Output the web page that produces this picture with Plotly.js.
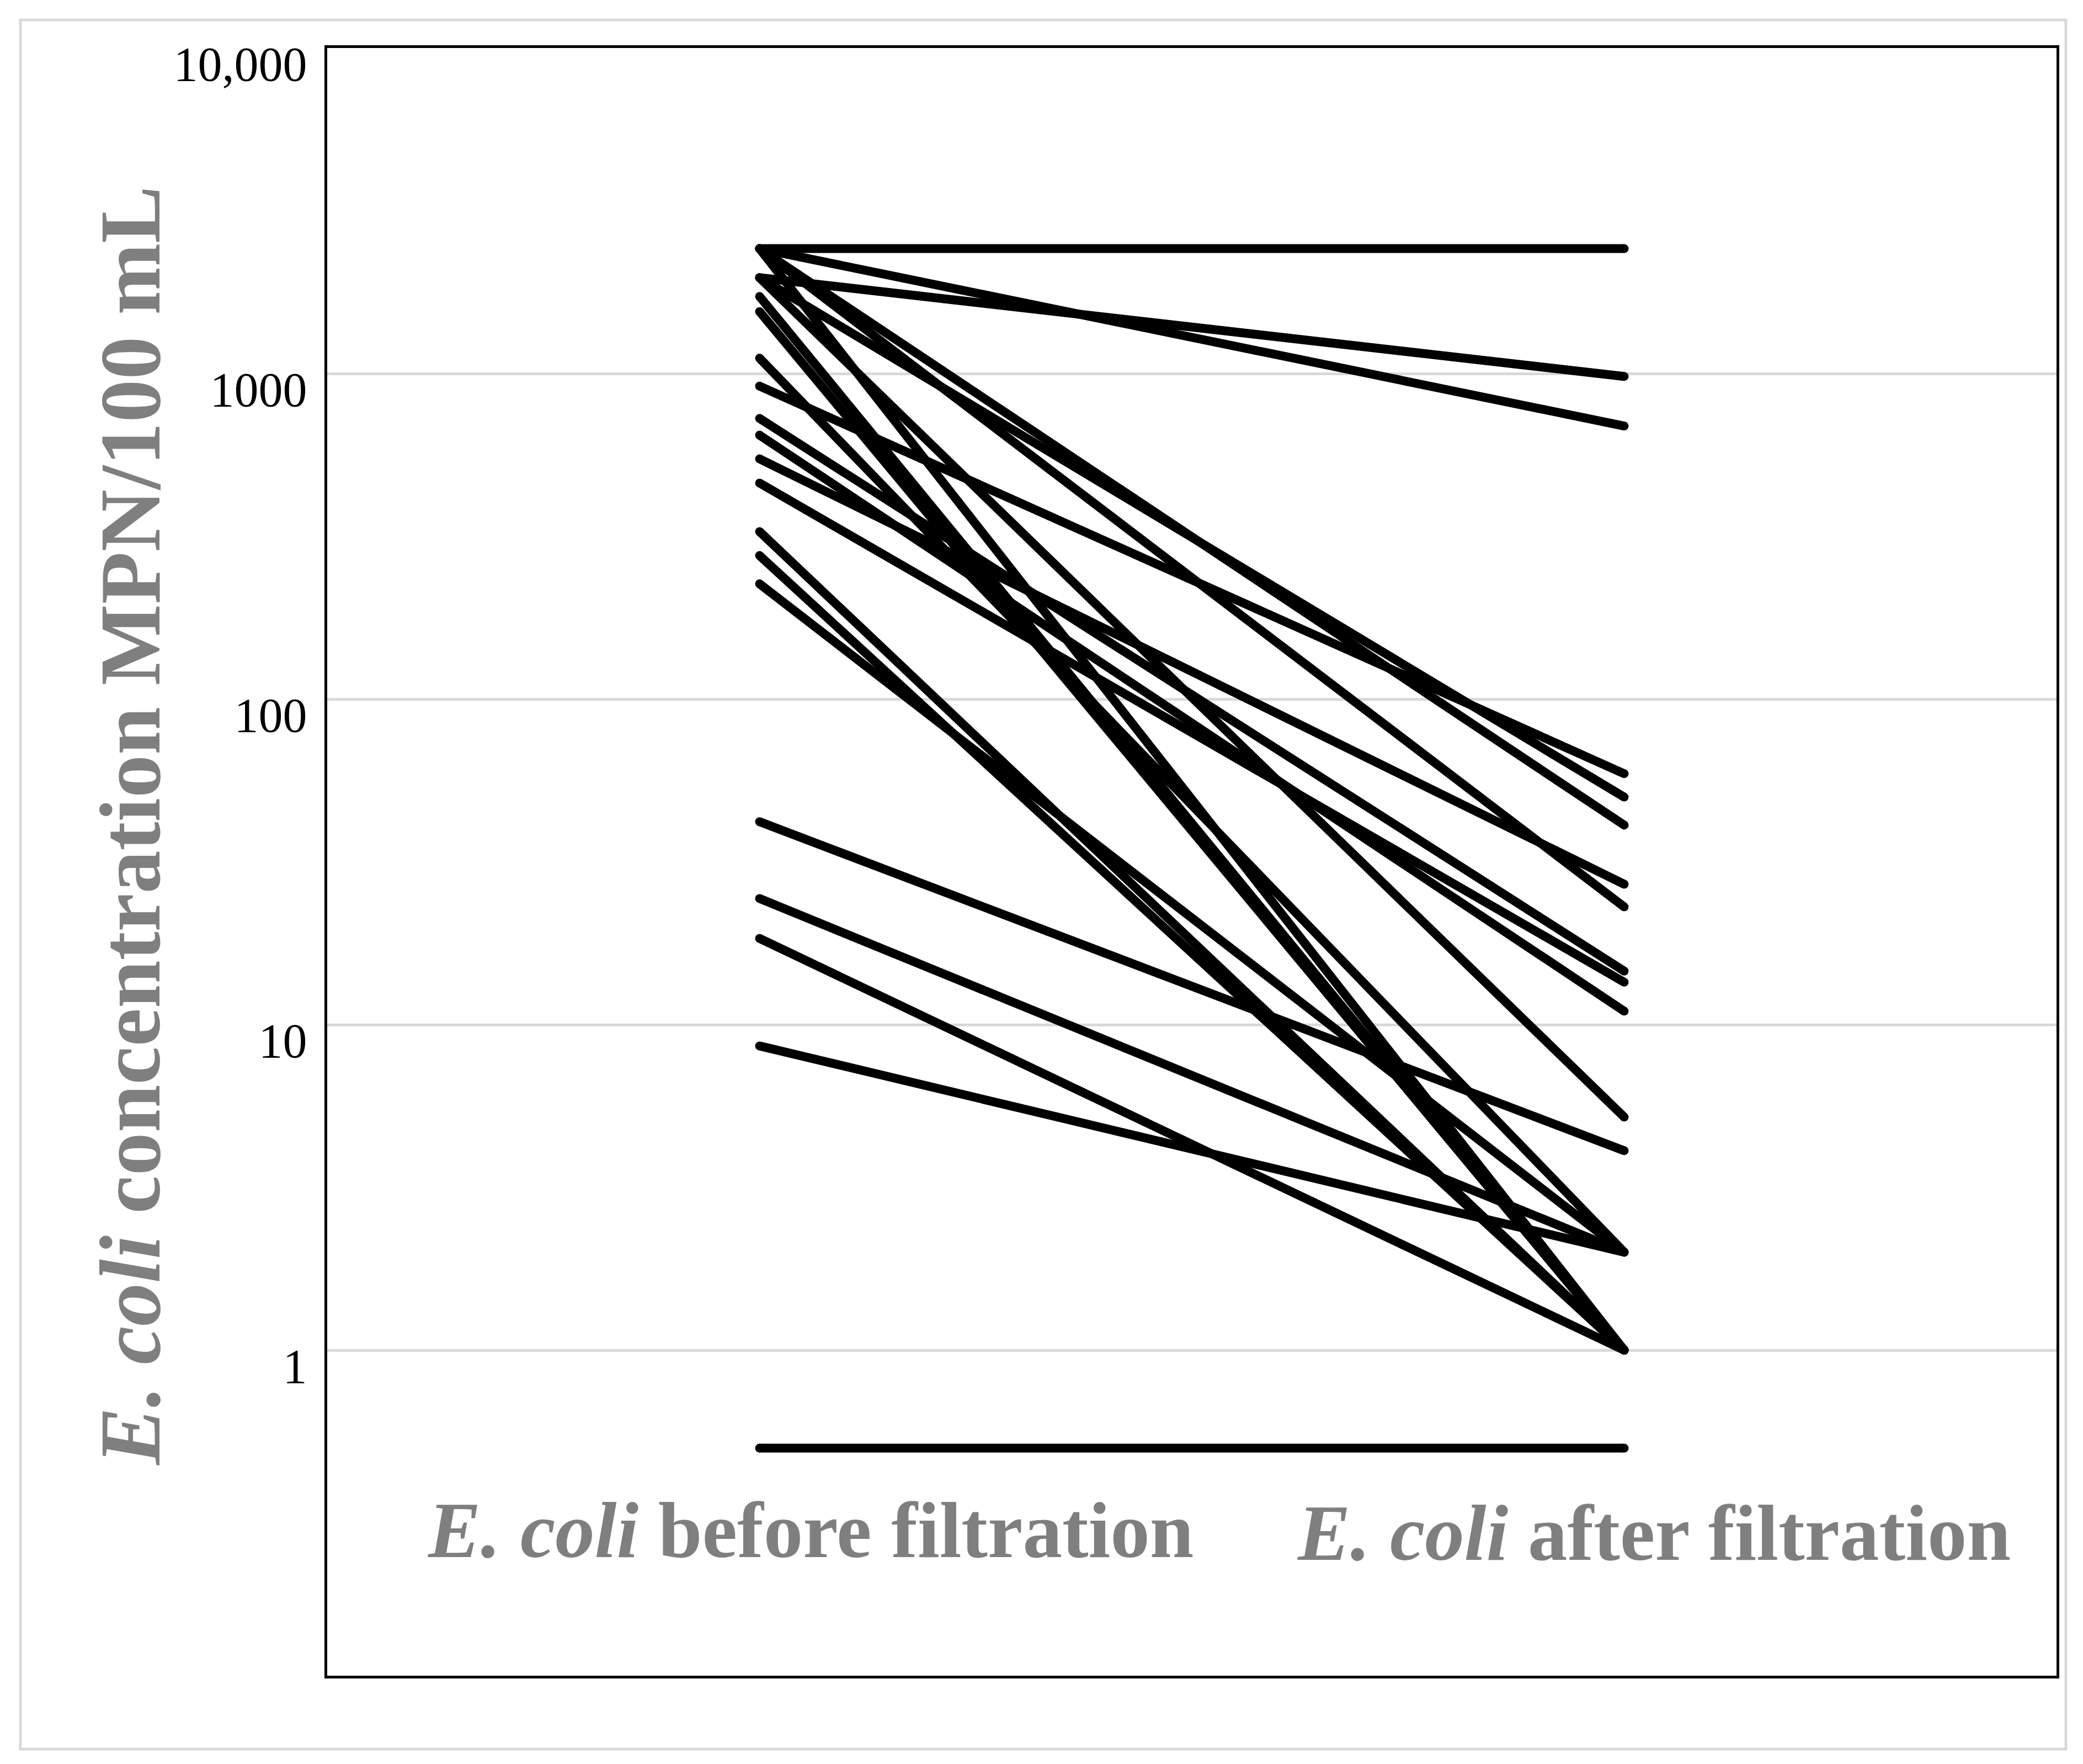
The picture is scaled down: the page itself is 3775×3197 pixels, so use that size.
<!DOCTYPE html>
<html>
<head>
<meta charset="utf-8">
<script src="https://cdn.plot.ly/plotly-3.0.1.min.js"></script>
<style>
  html, body { margin: 0; padding: 0; background: white; }
  #plot { width: 3775px; height: 3197px; }
</style>
</head>
<body>
<div id="plot"></div>
<script>
// E. coli MPN/100 mL, one sample per pair (before -> after filtration)
const beforeMPN = [2419.6, 2419.6, 1970, 2419.6, 2419.6, 1970, 1970, 2419.6, 1725, 1550, 1115, 915,
                   728, 647, 547, 461, 327, 276, 226, 42, 24.4, 18.4, 8.6, 0.5];
const afterMPN  = [2419.6, 690, 980, 41, 23, 50, 5.2, 1, 1, 1, 2, 59,
                   14.6, 11, 27, 13.5, 1, 1, 2, 4.1, 2, 1, 2, 0.5];

const categories = ['<b><i>E. coli</i> before filtration</b>', '<b><i>E. coli</i> after filtration</b>'];
const yTickVals = [1, 10, 100, 1000, 10000];
const yTickText = ['1', '10', '100', '1000', '10,000'];
const yTitle = '<b><i>E. coli</i> concentration MPN/100 mL</b>';

const serif = 'Liberation Serif, DejaVu Serif, serif';
const grey = '#7f7f7f';

// one trace per sample
const traces = beforeMPN.map(function(b, i) {
    return {
        x: [0, 1],
        y: [b, afterMPN[i]],
        type: 'scatter',
        mode: 'lines+markers',
        line: { color: '#000', width: 16 },
        marker: { color: '#000', size: 16 },   // round the line ends
        showlegend: false,
        hoverinfo: 'skip'
    };
});

const layout = {
    width: 3775,
    height: 3197,
    margin: { l: 593, r: 48, t: 87, b: 160 },
    paper_bgcolor: 'white',
    plot_bgcolor: 'white',
    showlegend: false,
    xaxis: {
        range: [-0.5, 1.5],
        showgrid: false,
        zeroline: false,
        showticklabels: false,
        ticks: '',
        showline: true,
        mirror: true,
        linecolor: '#000',
        linewidth: 5
    },
    yaxis: {
        type: 'log',
        range: [-1, 4],
        tickvals: yTickVals,
        ticktext: yTickText,
        ticks: '',
        ticklabelstandoff: 14,
        ticklabelshift: 28,
        tickfont: { family: serif, size: 88, color: '#000' },
        showgrid: true,
        gridcolor: '#d9d9d9',
        gridwidth: 5,
        zeroline: false,
        showline: true,
        mirror: true,
        linecolor: '#000',
        linewidth: 5
    },
    annotations: [
        {
            x: 0, y: -0.554, xref: 'x', yref: 'y',
            text: categories[0], showarrow: false, xshift: 92,
            xanchor: 'center', yanchor: 'middle',
            font: { family: serif, size: 143, color: grey }
        },
        {
            x: 1, y: -0.563, xref: 'x', yref: 'y',
            text: categories[1], showarrow: false, xshift: 53,
            xanchor: 'center', yanchor: 'middle',
            font: { family: serif, size: 143, color: grey }
        },
        {
            x: -0.114, y: 0.522, xref: 'paper', yref: 'paper',
            text: yTitle, showarrow: false, textangle: -90,
            xanchor: 'center', yanchor: 'middle',
            font: { family: serif, size: 156, color: grey }
        }
    ],
    shapes: [
        {
            type: 'rect', xref: 'paper', yref: 'paper',
            x0: -0.1774, x1: 1.0054, y0: -0.0451, y1: 1.0173,
            line: { color: '#d9d9d9', width: 5 },
            fillcolor: 'rgba(0,0,0,0)',
            layer: 'below'
        }
    ]
};

Plotly.newPlot('plot', traces, layout, { displayModeBar: false, staticPlot: true });
</script>
</body>
</html>
